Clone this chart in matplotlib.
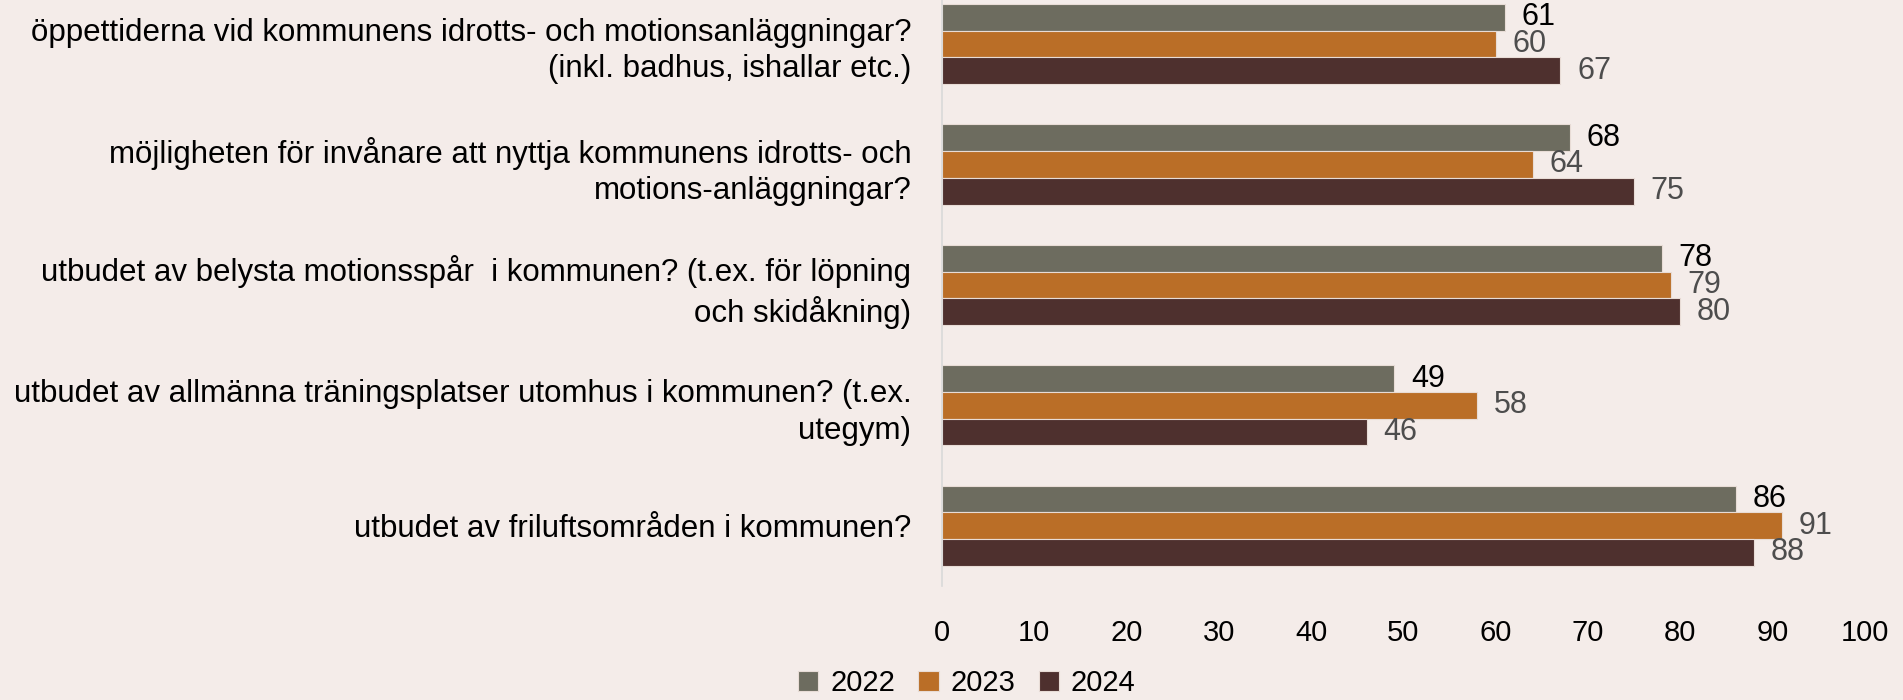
import matplotlib.pyplot as plt
import numpy as np

# Data
questions = [
    "öppettiderna vid kommunens idrotts- och motionsanläggningar?\n(inkl. badhus, ishallar etc.)",
    "möjligheten för invånare att nyttja kommunens idrotts- och\nmotions-anläggningar?",
    "utbudet av belysta motionsspår  i kommunen? (t.ex. för löpning\noch skidåkning)",
    "utbudet av allmänna träningsplatser utomhus i kommunen? (t.ex.\nutegym)",
    "utbudet av friluftsområden i kommunen?",
]
years = ["2022", "2023", "2024"]
values_2022 = [61, 68, 78, 49, 86]
values_2023 = [60, 64, 79, 58, 91]
values_2024 = [67, 75, 80, 46, 88]
x_ticks = [0, 10, 20, 30, 40, 50, 60, 70, 80, 90, 100]

colors = ["#6d6c5f", "#ba6e27", "#4e302e"]
label_colors = ["#000000", "#4d4d4d", "#4d4d4d"]
bg = "#f4ece9"

plt.rcParams['font.family'] = ['Liberation Sans', 'DejaVu Sans']

fig = plt.figure(figsize=(19.03, 7.0), dpi=100, facecolor=bg)
ax = fig.add_axes([0.495, 0.163, 0.485, 0.86])
ax.set_facecolor(bg)

series = [values_2022, values_2023, values_2024]
y = np.arange(len(questions))
h = 0.222
for i, vals in enumerate(series):
    pos = y + (i - 1) * h
    bars = ax.barh(pos, vals, height=h, color=colors[i], edgecolor="#e8dcd6",
                   linewidth=0.8, label=years[i])
    ax.bar_label(bars, labels=[str(v) for v in vals], padding=12,
                 fontsize=22, color=label_colors[i])

ax.set_ylim(len(questions) - 0.5, -0.5)
ax.set_xlim(0, 100)
ax.set_xticks(x_ticks)
ax.tick_params(axis='x', length=0, labelsize=21, pad=24)
ax.set_yticks(y)
ax.set_yticklabels(questions, fontsize=22.5, linespacing=1.3)
ax.tick_params(axis='y', length=0, pad=22)
for s in ['top', 'right', 'bottom']:
    ax.spines[s].set_visible(False)
ax.spines['left'].set_color("#d9d9d9")
ax.spines['left'].set_linewidth(1.2)

fig.legend(loc='center', bbox_to_anchor=(0.508, 0.024), ncol=3, frameon=False,
           fontsize=21, handlelength=0.7, handleheight=0.7, columnspacing=0.8,
           handletextpad=0.4)

fig.savefig("out.png", dpi=100, facecolor=bg)
